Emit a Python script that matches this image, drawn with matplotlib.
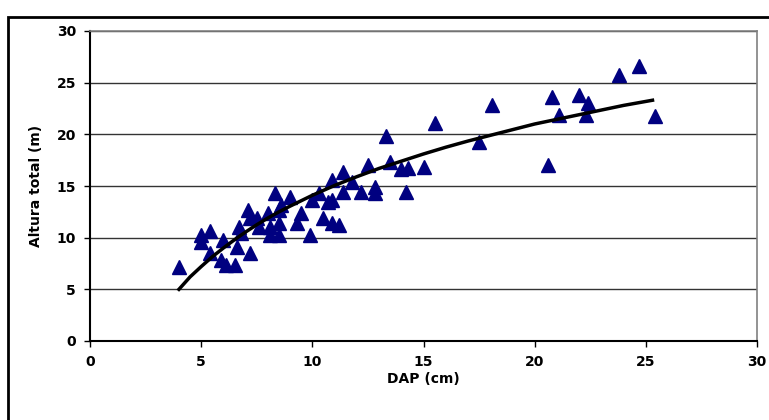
import numpy as np
from matplotlib import pyplot as plt
from matplotlib.patches import Rectangle

# Observed trees: DAP (cm) vs total height (m)
dap = [4.0, 5.0, 5.0, 5.4, 5.4, 5.9, 6.0, 6.1, 6.5, 6.6,
       6.7, 6.8, 7.1, 7.2, 7.2, 7.5, 7.6, 8.0, 8.1, 8.1,
       8.3, 8.5, 8.5, 8.5, 8.6, 9.0, 9.3, 9.5, 9.9, 10.0,
       10.3, 10.5, 10.7, 10.9, 10.9, 10.9, 11.2, 11.4, 11.4, 11.8,
       12.2, 12.5, 12.8, 12.8, 13.3, 13.5, 14.0, 14.2, 14.3, 15.0,
       15.5, 17.5, 18.1, 20.6, 20.8, 21.1, 22.0, 22.4, 22.3, 23.8,
       24.7, 25.4]
altura = [7.2, 9.6, 10.3, 10.6, 8.5, 7.8, 9.8, 7.4, 7.4, 9.1,
          11.0, 10.5, 12.7, 11.9, 8.5, 11.9, 11.0, 12.4, 11.0, 10.3,
          14.3, 12.7, 11.4, 10.3, 13.2, 13.9, 11.4, 12.4, 10.3, 13.6,
          14.3, 11.9, 13.5, 15.6, 13.6, 11.4, 11.2, 16.4, 14.4, 15.4,
          14.4, 17.0, 14.9, 14.3, 19.8, 17.3, 16.6, 14.4, 16.7, 16.8,
          21.1, 19.3, 22.8, 17.0, 23.6, 21.9, 23.8, 23.0, 21.9, 25.7,
          26.6, 21.8]

# Trend line
curve_x = [4, 4.5, 5, 5.5, 6, 6.5, 7, 7.5, 8, 8.5, 9, 10, 11, 12, 13, 14,
           15, 16, 17, 18, 19, 20, 21, 22, 23, 24, 25.3]
curve_y = [5.0, 6.2, 7.2, 8.15, 9.0, 9.8, 10.55, 11.25, 11.9, 12.5, 13.05,
           14.1, 15.05, 15.9, 16.7, 17.4, 18.1, 18.75, 19.35, 19.9, 20.45,
           21.0, 21.45, 21.9, 22.35, 22.8, 23.3]

xticks = [0, 5, 10, 15, 20, 25, 30]
yticks = [0, 5, 10, 15, 20, 25, 30]

fig = plt.figure(figsize=(7.69, 4.2), dpi=100)
ax = fig.add_axes([90/769, 1 - 341/420, (757 - 90)/769, (341 - 31)/420])

# outer chart border
fig.patches.append(Rectangle((8/769, -0.05), 1.1, 1 - 17/420 + 0.05,
                             transform=fig.transFigure, fill=False,
                             edgecolor='black', linewidth=2))

ax.plot(dap, altura, '^', color='#000080', markersize=9.5, zorder=3)
ax.plot(curve_x, curve_y, '-', color='black', linewidth=2.5, zorder=4,
        solid_joinstyle='round')

ax.set_xlim(0, 30)
ax.set_ylim(0, 30)
ax.set_xticks(xticks)
ax.set_yticks(yticks)
ax.yaxis.grid(True, color='#333333', linewidth=1)
ax.set_axisbelow(True)

for s in ['left', 'bottom']:
    ax.spines[s].set_color('black')
    ax.spines[s].set_linewidth(1.5)
for s in ['top', 'right']:
    ax.spines[s].set_color('#808080')
    ax.spines[s].set_linewidth(1.2)

ax.tick_params(direction='out', length=4, width=1, labelsize=10, pad=6)
for lab in ax.get_xticklabels() + ax.get_yticklabels():
    lab.set_fontweight('bold')

ax.set_xlabel('DAP (cm)', fontsize=10, fontweight='bold', labelpad=2)
ax.set_ylabel('Altura total (m)', fontsize=10, fontweight='bold', labelpad=10)

fig.savefig('out.png', dpi=100)
